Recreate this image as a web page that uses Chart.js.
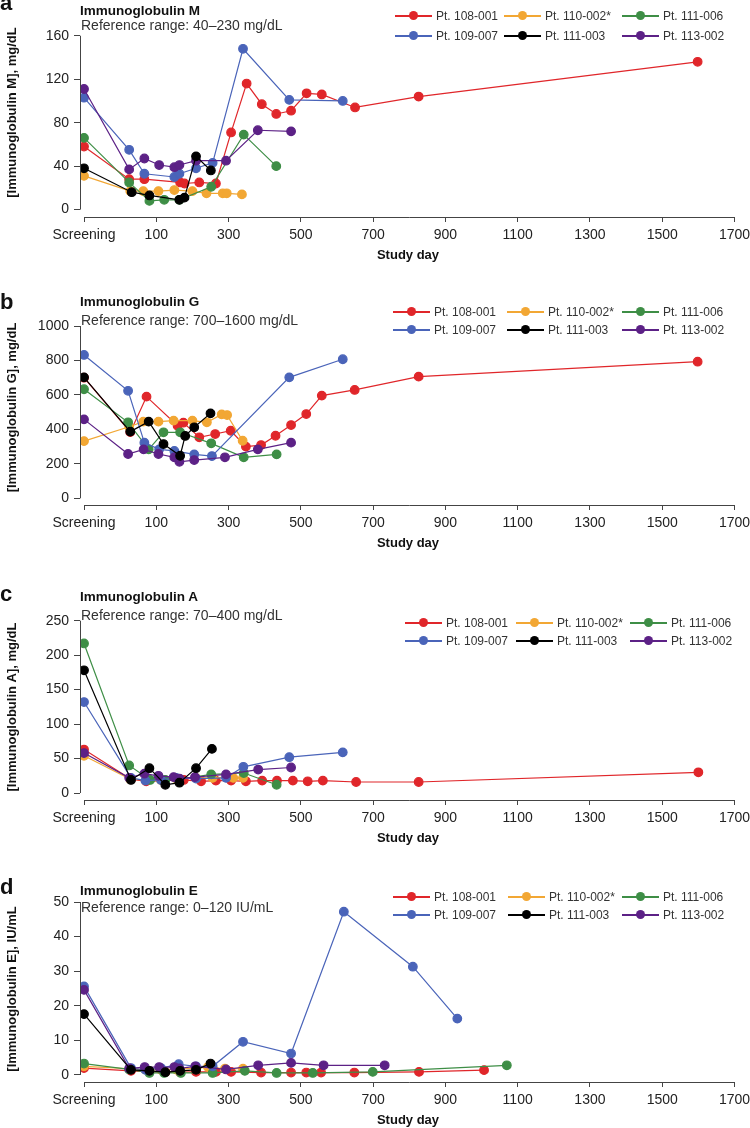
<!DOCTYPE html>
<html>
<head>
<meta charset="utf-8">
<script src="https://cdn.jsdelivr.net/npm/chart.js@4.4.0/dist/chart.umd.min.js"></script>
<style>
  body { margin: 0; background: #fff; font-family: "Liberation Sans", Arial, Helvetica, sans-serif; color: #222; }
  #page { position: relative; width: 750px; height: 1128px; overflow: hidden; }
  canvas { position: absolute; left: 0; }
  .txt { position: absolute; white-space: nowrap; line-height: 1; z-index: 2; }
  .letter { font-weight: bold; font-size: 22px; left: 0; color: #111; }
  .ttl { font-weight: bold; font-size: 13.5px; left: 80px; color: #111; }
  .ref { font-size: 14px; left: 81px; color: #333; }
  .leg { position: absolute; z-index: 2; display: flex; align-items: center; font-size: 12px; color: #333; white-space: nowrap; }
  .leg .ln { position: relative; width: 37px; height: 1.4px; margin-right: 4px; }
  .leg .dt { position: absolute; left: 14px; top: -4px; width: 9px; height: 9px; border-radius: 50%; }
</style>
</head>
<body>
<div id="page">
  <canvas id="cA"></canvas>
  <canvas id="cB"></canvas>
  <canvas id="cC"></canvas>
  <canvas id="cD"></canvas>
</div>
<script>
// study days and values (screening plotted at day -100)
const xTicks = [-100, 100, 300, 500, 700, 900, 1100, 1300, 1500, 1700];
const patients = ['Pt. 108-001', 'Pt. 110-002*', 'Pt. 111-006', 'Pt. 109-007', 'Pt. 111-003', 'Pt. 113-002'];

// a - IgM
const igmTicks = [0, 40, 80, 120, 160];
const igmDay108 = [-100, 25, 67, 166, 178, 219, 265, 307, 350, 392, 432, 473, 516, 558, 650, 826, 1598];
const igm108 = [58, 28, 28, 25, 24, 25, 24, 71, 116, 97, 88, 91, 107, 106, 94, 104, 136];
const igmDay110 = [-100, 28, 64, 106, 150, 200, 239, 284, 295, 337];
const igm110 = [31, 17, 17, 17, 18, 17, 15, 15, 15, 14];
const igmDay1116 = [-100, 25, 81, 122, 164, 252, 342, 432];
const igm1116 = [66, 25, 8, 9, 9, 21, 69, 40];
const igmDay109 = [-100, 25, 67, 150, 164, 210, 256, 340, 468, 616];
const igm109 = [103, 55, 33, 30, 33, 38, 43, 148, 101, 100];
const igmDay1113 = [-100, 32, 81, 164, 178, 210, 251];
const igm1113 = [38, 16, 13, 9, 11, 49, 36];
const igmDay113 = [-100, 25, 67, 108, 150, 164, 210, 293, 381, 473];
const igm113 = [111, 37, 47, 41, 39, 41, 45, 45, 73, 72];

// b - IgG
const iggTicks = [0, 200, 400, 600, 800, 1000];
const iggDay108 = [-100, 28, 73, 159, 175, 219, 263, 306, 348, 390, 430, 473, 515, 558, 649, 826, 1598];
const igg108 = [700, 384, 590, 421, 439, 354, 373, 392, 300, 309, 363, 425, 489, 596, 629, 706, 793];
const iggDay110 = [-100, 25, 64, 106, 148, 200, 240, 281, 296, 339];
const igg110 = [332, 415, 445, 445, 451, 451, 441, 487, 483, 334];
const iggDay1116 = [-100, 22, 79, 120, 166, 252, 342, 433];
const igg1116 = [633, 441, 284, 383, 383, 319, 238, 255];
const iggDay109 = [-100, 22, 67, 108, 150, 205, 254, 468, 616];
const igg109 = [832, 624, 323, 284, 275, 255, 245, 702, 807];
const iggDay1113 = [-100, 28, 79, 120, 166, 180, 205, 250];
const igg1113 = [702, 387, 445, 315, 247, 362, 412, 493];
const iggDay113 = [-100, 22, 65, 106, 150, 164, 205, 290, 381, 473];
const igg113 = [458, 257, 284, 257, 238, 212, 222, 238, 284, 323];

// c - IgA
const igaTicks = [0, 50, 100, 150, 200, 250];
const igaDay108 = [-100, 30, 72, 176, 224, 265, 307, 348, 393, 434, 478, 519, 561, 653, 826, 1600];
const iga108 = [63, 20, 17, 19, 17, 18, 18, 17, 18, 18, 18, 17, 18, 16, 16, 30];
const igaDay110 = [-100, 28, 72, 113, 155, 210, 256, 297, 313, 340];
const iga110 = [54, 20, 19, 19, 21, 22, 22, 23, 22, 22];
const igaDay1116 = [-100, 25, 83, 125, 164, 252, 342, 433];
const iga1116 = [217, 40, 19, 19, 20, 27, 29, 12];
const igaDay109 = [-100, 30, 70, 113, 155, 210, 293, 341, 468, 616];
const iga109 = [132, 22, 18, 19, 22, 21, 22, 38, 52, 59];
const igaDay1113 = [-100, 30, 81, 125, 164, 210, 254];
const iga1113 = [178, 19, 36, 12, 15, 36, 64];
const igaDay113 = [-100, 25, 67, 106, 148, 164, 207, 293, 382, 473];
const iga113 = [58, 22, 28, 25, 23, 21, 23, 27, 34, 37];

// d - IgE
const igeTicks = [0, 10, 20, 30, 40, 50];
const igeDay108 = [-100, 30, 81, 125, 166, 210, 265, 307, 390, 473, 515, 556, 648, 827, 1007];
const ige108 = [2, 1.2, 0.9, 0.8, 0.8, 0.9, 0.9, 0.9, 0.7, 0.7, 0.7, 0.7, 0.7, 0.9, 1.4];
const igeDay110 = [-100, 28, 70, 113, 155, 210, 243, 290, 340];
const ige110 = [2.5, 1.8, 1.6, 1.5, 1.6, 2, 2.3, 1.8, 1.8];
const igeDay1116 = [-100, 25, 81, 122, 168, 256, 345, 433, 533, 699, 1070];
const ige1116 = [3.3, 1.6, 0.6, 0.6, 0.6, 0.6, 1.2, 0.6, 0.6, 0.9, 2.8];
const igeDay109 = [-100, 30, 70, 113, 162, 210, 256, 340, 473, 619, 810, 933];
const ige109 = [25.6, 2, 1.5, 2, 3.1, 2.5, 2.5, 9.6, 6.2, 47.2, 31.3, 16.3];
const igeDay1113 = [-100, 30, 81, 125, 166, 210, 250];
const ige1113 = [17.6, 1.5, 1.2, 0.8, 1.2, 1.5, 3.3];
const igeDay113 = [-100, 25, 68, 108, 150, 164, 208, 293, 382, 473, 563, 732];
const ige113 = [24.6, 1.9, 2.3, 2.3, 2.3, 1.9, 2.5, 1.6, 2.8, 3.5, 2.8, 2.8];

// styling
const colors = ['#e0262a', '#f2a734', '#3e8e46', '#4a64b9', '#000000', '#5c2186'];
const drawOrder = [5, 4, 3, 2, 0, 1];

Chart.defaults.font.family = '"Liberation Sans", Arial, Helvetica, sans-serif';

// R-style axis lines that only span first to last tick
const axisLines = {
  id: 'axisLines',
  afterDraw(chart) {
    const { ctx, chartArea, scales: { x, y } } = chart;
    const yt = y.ticks, xt = x.ticks;
    const lx = Math.round(chartArea.left) + 0.5;
    const by = Math.round(chartArea.bottom) + 0.5;
    ctx.save();
    ctx.strokeStyle = '#444';
    ctx.lineWidth = 1;
    ctx.beginPath();
    ctx.moveTo(lx, y.getPixelForValue(yt[0].value));
    ctx.lineTo(lx, y.getPixelForValue(yt[yt.length - 1].value));
    ctx.moveTo(x.getPixelForValue(xt[0].value), by);
    ctx.lineTo(x.getPixelForValue(xt[xt.length - 1].value), by);
    ctx.stroke();
    ctx.restore();
  }
};

function series(days, vals) {
  return days.map((d, i) => ({ x: d, y: vals[i] }));
}

const panels = [
  { id: 'cA', letter: 'a', name: 'Immunoglobulin M', ref: 'Reference range: 40\u2013230 mg/dL',
    yTitle: '[Immunoglobulin M], mg/dL', ticks: igmTicks, chartTop: 8, chartBottom: 216.7, zero: 209.3, top: 35.7,
    letterTop: -8, ttlTop: 3.5, refTop: 17.5, legRows: [16, 36], legCols: [395, 504, 622],
    data: [[igmDay108, igm108], [igmDay110, igm110], [igmDay1116, igm1116], [igmDay109, igm109], [igmDay1113, igm1113], [igmDay113, igm113]] },
  { id: 'cB', letter: 'b', name: 'Immunoglobulin G', ref: 'Reference range: 700\u20131600 mg/dL',
    yTitle: '[Immunoglobulin G], mg/dL', ticks: iggTicks, chartTop: 310, chartBottom: 505, zero: 498.3, top: 326,
    letterTop: 291, ttlTop: 295, refTop: 313, legRows: [312, 330], legCols: [393, 507, 622],
    data: [[iggDay108, igg108], [iggDay110, igg110], [iggDay1116, igg1116], [iggDay109, igg109], [iggDay1113, igg1113], [iggDay113, igg113]] },
  { id: 'cC', letter: 'c', name: 'Immunoglobulin A', ref: 'Reference range: 70\u2013400 mg/dL',
    yTitle: '[Immunoglobulin A], mg/dL', ticks: igaTicks, chartTop: 614, chartBottom: 800.3, zero: 793.3, top: 620.7,
    letterTop: 583, ttlTop: 590, refTop: 608, legRows: [623, 641], legCols: [405, 516, 630],
    data: [[igaDay108, iga108], [igaDay110, iga110], [igaDay1116, iga1116], [igaDay109, iga109], [igaDay1113, iga1113], [igaDay113, iga113]] },
  { id: 'cD', letter: 'd', name: 'Immunoglobulin E', ref: 'Reference range: 0\u2013120 IU/mL',
    yTitle: '[Immunoglobulin E], IU/mL', ticks: igeTicks, chartTop: 896, chartBottom: 1081.7, zero: 1074.7, top: 902,
    letterTop: 876, ttlTop: 884, refTop: 900, legRows: [897, 915], legCols: [393, 508, 622],
    data: [[igeDay108, ige108], [igeDay110, ige110], [igeDay1116, ige1116], [igeDay109, ige109], [igeDay1113, ige1113], [igeDay113, ige113]] }
];

const page = document.getElementById('page');
const X_AXIS_H = 46;
const CHART_RIGHT = 736;
// day -100 sits at x=84, day 1700 at x=734.5, chart area starts at x=80
const pxPerDay = (734.5 - 84) / 1800;
const xMin = -100 - 4 / pxPerDay;
const xMax = 1700 + (CHART_RIGHT - 734.5) / pxPerDay;

panels.forEach(p => {
  const padTop = p.letter === 'a' ? 8 : 12;
  const canvasTop = p.chartTop - padTop;
  const canvas = document.getElementById(p.id);
  canvas.width = 750;
  canvas.height = Math.round(p.chartBottom + X_AXIS_H - canvasTop);
  canvas.style.top = canvasTop + 'px';

  const yMaxTick = p.ticks[p.ticks.length - 1];
  const pxPerUnit = (p.zero - p.top) / yMaxTick;
  const yMin = -(p.chartBottom - p.zero) / pxPerUnit;
  const yMax = (p.zero - p.chartTop) / pxPerUnit;

  new Chart(canvas, {
    type: 'line',
    data: {
      datasets: p.data.map((s, i) => ({
        label: patients[i],
        data: series(s[0], s[1]),
        borderColor: colors[i],
        backgroundColor: colors[i],
        pointBackgroundColor: colors[i],
        pointBorderColor: colors[i],
        borderWidth: 1.2,
        pointRadius: 4.3,
        pointHoverRadius: 4.3,
        tension: 0,
        order: drawOrder[i]
      }))
    },
    options: {
      responsive: false,
      animation: false,
      events: [],
      layout: { padding: { top: padTop, right: 750 - CHART_RIGHT, bottom: 0, left: 0 } },
      plugins: { legend: { display: false }, tooltip: { enabled: false } },
      scales: {
        x: {
          type: 'linear', min: xMin, max: xMax,
          afterBuildTicks: s => { s.ticks = xTicks.map(v => ({ value: v })); },
          afterFit: s => { s.height = X_AXIS_H; s.paddingLeft = 0; s.paddingRight = 0; },
          grid: { display: true, drawOnChartArea: false, drawTicks: true, tickLength: 5, tickColor: '#444' },
          border: { display: false },
          ticks: { autoSkip: false, maxRotation: 0, padding: 5, color: '#222', font: { size: 14 },
                   callback: v => v === -100 ? 'Screening' : String(v) },
          title: { display: true, text: 'Study day', color: '#111', font: { size: 13, weight: 'bold' }, padding: 0 }
        },
        y: {
          min: yMin, max: yMax,
          afterBuildTicks: s => { s.ticks = p.ticks.map(v => ({ value: v })); },
          afterFit: s => { s.width = 80; s.paddingTop = 0; s.paddingBottom = 0; },
          grid: { display: true, drawOnChartArea: false, drawTicks: true, tickLength: 6, tickColor: '#444' },
          border: { display: false },
          ticks: { padding: 5, color: '#222', font: { size: 14 }, callback: v => String(v) },
          title: { display: true, text: p.yTitle, color: '#111', font: { size: 13, weight: 'bold' }, padding: { top: 5, bottom: 0 } }
        }
      }
    },
    plugins: [axisLines]
  });

  // panel letter, titles
  const add = (cls, text, top) => {
    const d = document.createElement('div');
    d.className = 'txt ' + cls;
    d.textContent = text;
    d.style.top = top + 'px';
    page.appendChild(d);
  };
  add('letter', p.letter, p.letterTop);
  add('ttl', p.name, p.ttlTop);
  add('ref', p.ref, p.refTop);

  // legend: two rows of three
  patients.forEach((name, i) => {
    const item = document.createElement('div');
    item.className = 'leg';
    item.style.left = p.legCols[i % 3] + 'px';
    item.style.top = (p.legRows[Math.floor(i / 3)] - 7) + 'px';
    item.style.height = '14px';
    const ln = document.createElement('span');
    ln.className = 'ln';
    ln.style.background = colors[i];
    const dt = document.createElement('span');
    dt.className = 'dt';
    dt.style.background = colors[i];
    ln.appendChild(dt);
    const lbl = document.createElement('span');
    lbl.textContent = name;
    item.appendChild(ln);
    item.appendChild(lbl);
    page.appendChild(item);
  });
});
</script>
</body>
</html>
